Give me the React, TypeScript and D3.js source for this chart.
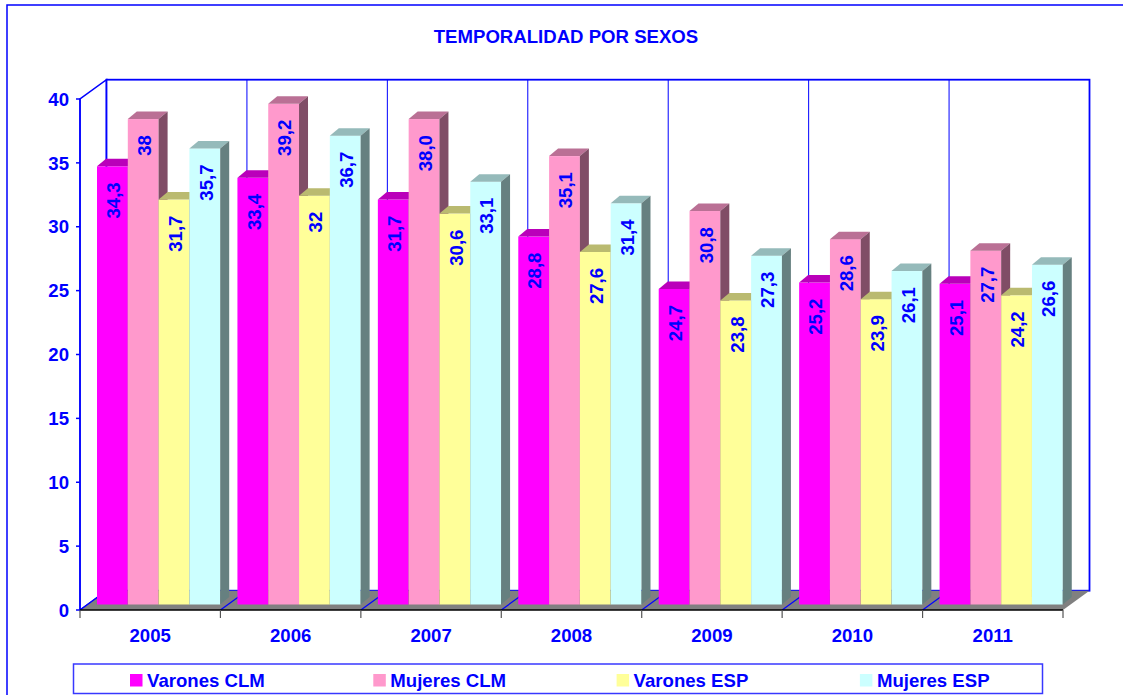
import * as d3 from "d3";
import { useEffect, useRef } from "react";

const years = ["2005", "2006", "2007", "2008", "2009", "2010", "2011"];
const seriesNames = ["Varones CLM", "Mujeres CLM", "Varones ESP", "Mujeres ESP"];
const seriesColors = ["#FF00FF", "#FF99CC", "#FFFF99", "#CCFFFF"];
// values as printed on the bars
const varonesCLM = ["34,3", "33,4", "31,7", "28,8", "24,7", "25,2", "25,1"];
const mujeresCLM = ["38", "39,2", "38,0", "35,1", "30,8", "28,6", "27,7"];
const varonesESP = ["31,7", "32", "30,6", "27,6", "23,8", "23,9", "24,2"];
const mujeresESP = ["35,7", "36,7", "33,1", "31,4", "27,3", "26,1", "26,6"];
const yTicks = [0, 5, 10, 15, 20, 25, 30, 35, 40];

const W = 1123;
const H = 695;
const FONT = "Arial, 'Liberation Sans', sans-serif";
const FS = 18.6;
const BLUE = "#0000FF";

export default function App() {
  const ref = useRef<SVGSVGElement | null>(null);

  useEffect(() => {
    const svg = d3.select(ref.current);
    svg.selectAll("*").remove();

    const allSeries = [varonesCLM, mujeresCLM, varonesESP, mujeresESP];
    const left = 80,
      right = 1063,
      wx = 26.5,
      wy = -19.3; // wall depth
    const bdx = 9,
      bdy = -7.5; // bar depth
    const barLift = -5.5;

    const y = d3.scaleLinear().domain([0, 40]).range([610, 99]);
    const x = d3.scaleBand().domain(years).range([left, right]);
    const inner = d3
      .scaleBand()
      .domain(seriesNames)
      .range([17, 17 + 123.2]);

    // outer frame
    svg
      .append("rect")
      .attr("x", 7)
      .attr("y", 5)
      .attr("width", W)
      .attr("height", H)
      .attr("fill", "white")
      .attr("stroke", BLUE)
      .attr("stroke-width", 1.5);

    svg
      .append("text")
      .attr("x", 566)
      .attr("y", 42.5)
      .attr("text-anchor", "middle")
      .attr("font-family", FONT)
      .attr("font-weight", "bold")
      .attr("font-size", FS)
      .attr("fill", BLUE)
      .text("TEMPORALIDAD POR SEXOS");

    const y0 = y(0),
      yTop = y(40);

    // left wall
    svg
      .append("path")
      .attr(
        "d",
        `M${left},${y0}L${left},${yTop}L${left + wx},${yTop + wy}L${left + wx},${y0 + wy}Z`
      )
      .attr("fill", "white")
      .attr("stroke", BLUE)
      .attr("stroke-width", 1.5);
    // back wall
    svg
      .append("rect")
      .attr("x", left + wx)
      .attr("y", yTop + wy)
      .attr("width", right - left)
      .attr("height", y0 - yTop)
      .attr("fill", "white")
      .attr("stroke", BLUE)
      .attr("stroke-width", 1.8);
    // vertical gridlines on back wall
    svg
      .append("g")
      .selectAll("line")
      .data(years.slice(1))
      .enter()
      .append("line")
      .attr("x1", (d) => x(d)! + wx)
      .attr("x2", (d) => x(d)! + wx)
      .attr("y1", yTop + wy)
      .attr("y2", y0 + wy)
      .attr("stroke", BLUE)
      .attr("stroke-width", 1);

    // floor
    svg
      .append("path")
      .attr(
        "d",
        `M${left},${y0}L${right},${y0}L${right + wx},${y0 + wy}L${left + wx},${y0 + wy}Z`
      )
      .attr("fill", "#808080");
    svg
      .append("g")
      .selectAll("line")
      .data(years)
      .enter()
      .append("line")
      .attr("x1", (d) => x(d)!)
      .attr("x2", (d) => x(d)! + wx)
      .attr("y1", y0)
      .attr("y2", y0 + wy)
      .attr("stroke", BLUE)
      .attr("stroke-width", 1.2);

    // bars
    const shade = (c: string, k: number) => {
      const rgb = d3.rgb(c);
      return d3.rgb(rgb.r * k, rgb.g * k, rgb.b * k).formatHex();
    };
    const bars = svg.append("g");
    const labels: { cx: number; top: number; text: string }[] = [];
    years.forEach((yr, i) => {
      seriesNames.forEach((s, j) => {
        const str = allSeries[j][i];
        const v = +str.replace(",", ".");
        const bx = x(yr)! + inner(s)!;
        const bw = inner.bandwidth();
        const top = y(v) + barLift;
        const bottom = y0 + barLift;
        const col = seriesColors[j];
        bars
          .append("rect")
          .attr("x", bx)
          .attr("y", top)
          .attr("width", bw)
          .attr("height", bottom - top)
          .attr("fill", col);
        bars
          .append("path")
          .attr(
            "d",
            `M${bx},${top}L${bx + bw},${top}L${bx + bw + bdx},${top + bdy}L${bx + bdx},${top + bdy}Z`
          )
          .attr("fill", shade(col, 0.73));
        bars
          .append("path")
          .attr(
            "d",
            `M${bx + bw},${top}L${bx + bw + bdx},${top + bdy}L${bx + bw + bdx},${bottom + bdy}L${bx + bw},${bottom}Z`
          )
          .attr("fill", shade(col, 0.5));
        labels.push({ cx: bx + bw / 2, top, text: str });
      });
    });

    svg
      .append("g")
      .selectAll("text")
      .data(labels)
      .enter()
      .append("text")
      .attr("transform", (d) => `translate(${d.cx + 7.8},${d.top + 16}) rotate(-90)`)
      .attr("text-anchor", "end")
      .attr("font-family", FONT)
      .attr("font-weight", "bold")
      .attr("font-size", FS)
      .attr("fill", BLUE)
      .text((d) => d.text);

    // y axis
    svg
      .append("line")
      .attr("x1", left)
      .attr("x2", left)
      .attr("y1", yTop)
      .attr("y2", y0)
      .attr("stroke", BLUE)
      .attr("stroke-width", 1.5);
    const yt = svg.append("g");
    yt.selectAll("line")
      .data(yTicks)
      .enter()
      .append("line")
      .attr("x1", left - 4)
      .attr("x2", left)
      .attr("y1", (d) => y(d))
      .attr("y2", (d) => y(d))
      .attr("stroke", BLUE)
      .attr("stroke-width", 1.5);
    yt.selectAll("text")
      .data(yTicks)
      .enter()
      .append("text")
      .attr("x", 69)
      .attr("y", (d) => y(d) + 6.7)
      .attr("text-anchor", "end")
      .attr("font-family", FONT)
      .attr("font-weight", "bold")
      .attr("font-size", FS)
      .attr("fill", BLUE)
      .text((d) => d);

    // x axis
    svg
      .append("line")
      .attr("x1", left)
      .attr("x2", right)
      .attr("y1", y0)
      .attr("y2", y0)
      .attr("stroke", "#000")
      .attr("stroke-width", 1.5);
    const xt = svg.append("g");
    xt.selectAll("line")
      .data([...years.map((d) => x(d)!), right])
      .enter()
      .append("line")
      .attr("x1", (d) => d)
      .attr("x2", (d) => d)
      .attr("y1", y0)
      .attr("y2", y0 + 8)
      .attr("stroke", "#555")
      .attr("stroke-width", 1.2);
    xt.selectAll("text")
      .data(years)
      .enter()
      .append("text")
      .attr("x", (d) => x(d)! + x.bandwidth() / 2)
      .attr("y", 641.5)
      .attr("text-anchor", "middle")
      .attr("font-family", FONT)
      .attr("font-weight", "bold")
      .attr("font-size", FS)
      .attr("fill", BLUE)
      .text((d) => d);

    // legend
    svg
      .append("rect")
      .attr("x", 73.5)
      .attr("y", 664)
      .attr("width", 969)
      .attr("height", 29.5)
      .attr("fill", "white")
      .attr("stroke", "#3838FF")
      .attr("stroke-width", 1.5);
    const lx = d3.scaleLinear().domain([0, 1]).range([130, 373.3]);
    const items = svg
      .append("g")
      .selectAll("g")
      .data(seriesNames)
      .enter()
      .append("g")
      .attr("transform", (_, i) => `translate(${lx(i)},674)`);
    items
      .append("rect")
      .attr("width", 12.5)
      .attr("height", 12.5)
      .attr("fill", (_, i) => seriesColors[i]);
    items
      .append("text")
      .attr("x", 17)
      .attr("y", 12.6)
      .attr("font-family", FONT)
      .attr("font-weight", "bold")
      .attr("font-size", FS)
      .attr("fill", BLUE)
      .text((d) => d);
  }, []);

  return (
    <svg
      ref={ref}
      width={W}
      height={H}
      style={{ position: "absolute", left: 0, top: 0, background: "white" }}
    />
  );
}
